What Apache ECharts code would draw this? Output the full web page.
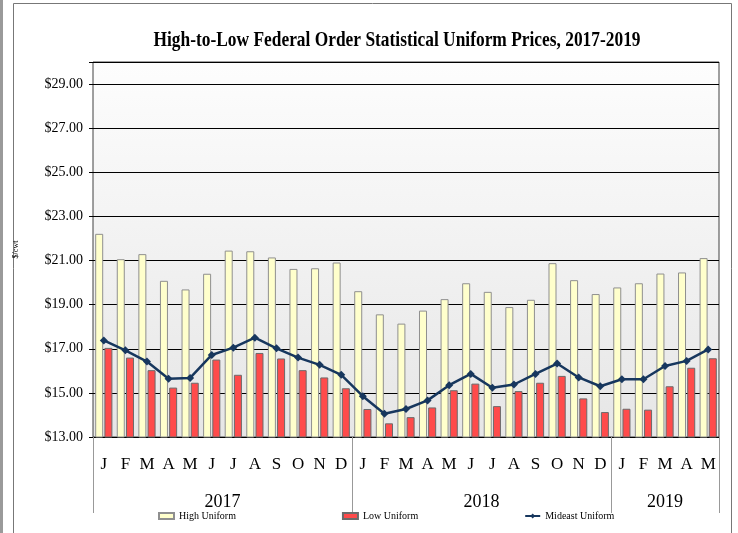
<!DOCTYPE html>
<html>
<head>
<meta charset="utf-8">
<title>High-to-Low Federal Order Statistical Uniform Prices, 2017-2019</title>
<script src="https://cdn.jsdelivr.net/npm/echarts@6/dist/echarts.min.js"></script>
<style>
    html, body { margin: 0; padding: 0; background: #fff; }
    #chart { width: 738px; height: 533px; }
</style>
</head>
<body>
<div id="chart"></div>
<script>
// Months Jan 2017 - May 2019
const periods = [
    '2017-01', '2017-02', '2017-03', '2017-04', '2017-05', '2017-06',
    '2017-07', '2017-08', '2017-09', '2017-10', '2017-11', '2017-12',
    '2018-01', '2018-02', '2018-03', '2018-04', '2018-05', '2018-06',
    '2018-07', '2018-08', '2018-09', '2018-10', '2018-11', '2018-12',
    '2019-01', '2019-02', '2019-03', '2019-04', '2019-05'
];
const monthLetters = [
    'J', 'F', 'M', 'A', 'M', 'J', 'J', 'A', 'S', 'O', 'N', 'D',
    'J', 'F', 'M', 'A', 'M', 'J', 'J', 'A', 'S', 'O', 'N', 'D',
    'J', 'F', 'M', 'A', 'M'
];
const yearLabels = ['2017', '2018', '2019'];
const yearCenters = [6, 18, 26.5];      // middle of each year's months
const yearBounds = [0, 12, 24, 29];     // separators under the axis

const highUniform = [
    22.21, 21.06, 21.29, 20.08, 19.69, 20.40, 21.45, 21.42, 21.14, 20.62, 20.65, 20.91,
    19.61, 18.56, 18.14, 18.73, 19.25, 19.97, 19.58, 18.89, 19.22, 20.88, 20.11, 19.48,
    19.78, 19.97, 20.41, 20.46, 21.11
];
const lowUniform = [
    17.04, 16.60, 16.03, 15.24, 15.46, 16.51, 15.82, 16.81, 16.56, 16.03, 15.70, 15.21,
    14.27, 13.62, 13.90, 14.34, 15.12, 15.42, 14.40, 15.08, 15.46, 15.77, 14.75, 14.13,
    14.28, 14.24, 15.30, 16.14, 16.57
];
const mideastUniform = [
    17.38, 16.93, 16.42, 15.64, 15.68, 16.72, 17.05, 17.50, 17.02, 16.60, 16.27, 15.82,
    14.85, 14.05, 14.27, 14.66, 15.35, 15.86, 15.23, 15.38, 15.86, 16.33, 15.70, 15.30,
    15.62, 15.62, 16.22, 16.45, 16.97
];

const SERIF = "'Liberation Serif', 'Times New Roman', serif";

const COLORS = {
    high: '#ffffcc',
    highBorder: '#8f8f8f',
    low: '#ff4b4b',
    lowBorder: '#6b6b6b',
    mideast: '#17375e'
};

const chart = echarts.init(document.getElementById('chart'));

chart.setOption({
    animation: false,
    backgroundColor: '#fff',
    graphic: [
        {
            type: 'rect',
            shape: { x: 13.5, y: 3.5, width: 718, height: 560 },
            style: { fill: null, stroke: '#777', lineWidth: 1 },
            silent: true
        },
        {
            type: 'rect',
            shape: { x: 0, y: 0, width: 3, height: 533 },
            style: { fill: '#9a9a9a' },
            silent: true
        },
        {
            type: 'text',
            x: 397,
            y: 40,
            scaleX: 0.79,
            style: {
                text: 'High-to-Low Federal Order Statistical Uniform Prices, 2017-2019',
                font: "bold 22px 'Liberation Serif', 'Times New Roman', serif",
                fill: '#000',
                align: 'center',
                verticalAlign: 'middle'
            },
            silent: true
        }
    ],
    legend: {
        left: 158,
        top: 511,
        padding: 0,
        itemWidth: 15,
        itemHeight: 6,
        itemGap: 106,
        textStyle: { fontFamily: SERIF, fontSize: 10, color: '#000' },
        data: [
            { name: 'High Uniform', icon: 'rect' },
            { name: 'Low Uniform', icon: 'rect' },
            { name: 'Mideast Uniform' }
        ]
    },
    grid: {
        left: 93,
        right: 19,
        top: 62,
        bottom: 96,
        containLabel: false,
        show: true,
        borderColor: '#404040',
        borderWidth: 1,
        backgroundColor: {
            type: 'linear', x: 0, y: 0, x2: 0, y2: 1,
            colorStops: [
                { offset: 0, color: '#fdfdfd' },
                { offset: 1, color: '#e6e6e6' }
            ]
        }
    },
    xAxis: [
        {
            type: 'category',
            data: periods,
            boundaryGap: true,
            axisLine: { lineStyle: { color: '#000', width: 1 } },
            axisTick: { show: false },
            axisLabel: {
                interval: 0,
                margin: 19,
                fontFamily: SERIF,
                fontSize: 17,
                color: '#000',
                formatter: (v, i) => monthLetters[i]
            },
            splitLine: { show: false }
        },
        {
            type: 'value',
            min: 0,
            max: 29,
            position: 'bottom',
            axisLine: { show: false },
            splitLine: { show: false },
            axisTick: {
                show: true,
                customValues: yearBounds,
                length: 76,
                lineStyle: { color: '#999', width: 1 }
            },
            axisLabel: {
                customValues: yearCenters,
                margin: 56,
                fontFamily: SERIF,
                fontSize: 18,
                color: '#000',
                formatter: v => yearLabels[yearCenters.indexOf(v)] || ''
            }
        }
    ],
    yAxis: {
        type: 'value',
        min: 13,
        max: 30,
        interval: 2,
        name: '$/cwt',
        nameLocation: 'middle',
        nameGap: 73,
        nameTextStyle: { fontFamily: SERIF, fontSize: 8, color: '#000' },
        axisLine: { show: false },
        axisTick: { show: true, length: 4, lineStyle: { color: '#000' } },
        axisLabel: {
            margin: 10,
            fontFamily: SERIF,
            fontSize: 14,
            color: '#000',
            formatter: v => (v > 29.5 ? '' : '$' + v.toFixed(2))
        },
        splitLine: { lineStyle: { color: '#000', width: 1 } }
    },
    series: [
        {
            name: 'High Uniform',
            type: 'bar',
            data: highUniform,
            barWidth: 8,
            barGap: '15%',
            itemStyle: {
                color: COLORS.high,
                borderColor: COLORS.highBorder,
                borderWidth: 1
            }
        },
        {
            name: 'Low Uniform',
            type: 'bar',
            data: lowUniform,
            barWidth: 8,
            itemStyle: {
                color: COLORS.low,
                borderColor: COLORS.lowBorder,
                borderWidth: 1
            }
        },
        {
            name: 'Mideast Uniform',
            type: 'line',
            data: mideastUniform,
            symbol: 'diamond',
            symbolSize: 8,
            z: 5,
            itemStyle: { color: COLORS.mideast },
            lineStyle: { color: COLORS.mideast, width: 2.5 }
        }
    ]
});
</script>
</body>
</html>
